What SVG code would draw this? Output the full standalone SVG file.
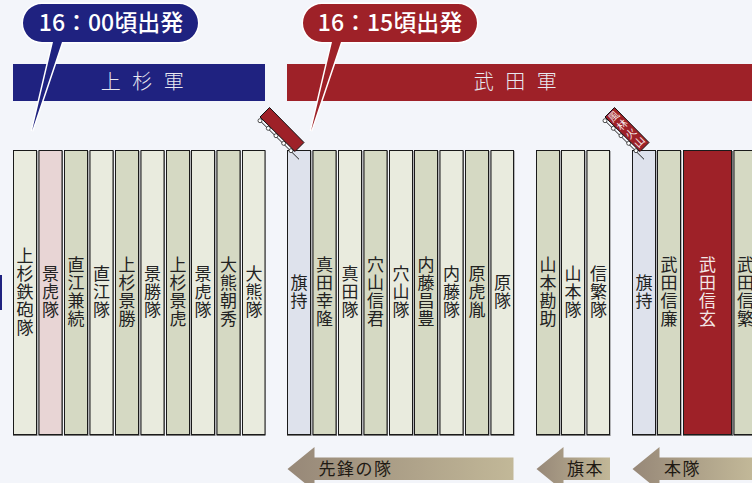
<svg xmlns="http://www.w3.org/2000/svg" width="752" height="483" viewBox="0 0 752 483">
<style>
text{font-family:"Noto Sans CJK JP","Noto Sans",sans-serif}
.s{fill:#777;stroke:none}
.c{stroke:#1a1a1a;stroke-width:1}
.L{fill:#e9ebde}.D{fill:#d5d9c3}.P{fill:#e8d5d5}.B{fill:#dee2ec}.R{fill:#9e2128}
.v{writing-mode:vertical-rl;text-anchor:middle;font-size:17px;letter-spacing:1px;fill:#222}
.vw{fill:#f3e6e6}
.ban{font-size:20px;fill:#e8e8f0;text-anchor:middle;font-weight:300}
.pill{stroke:#fff;stroke-width:3;paint-order:stroke}
.pt{font-size:23px;fill:#fff;text-anchor:middle;font-weight:500}
.arr{font-size:17px;fill:#1f1a14;letter-spacing:1.500px}
.pole{stroke:#222;stroke-width:1;fill:none}
.ring{fill:#fff;stroke:#222;stroke-width:.8}
.flag{fill:#9e2128;stroke:#111;stroke-width:1}
</style>
<defs>
<linearGradient id="g1" x1="0" x2="1" y1="0" y2="0"><stop offset="0" stop-color="#978878"/><stop offset="1" stop-color="#c2b898"/></linearGradient>
<g id="fl">
<line class="pole" x1="260" y1="120.700" x2="299" y2="159.300"/>
<circle class="ring" cx="260" cy="120.700" r="2"/><circle class="ring" cx="268.300" cy="128.300" r="2"/><circle class="ring" cx="276" cy="135.700" r="2"/><circle class="ring" cx="283.700" cy="143.300" r="2"/><circle class="ring" cx="291" cy="150.700" r="2"/>
</g>
</defs>
<rect width="752" height="483" fill="#f3f5fa"/>
<rect x="0" y="275" width="2" height="35" fill="#1f2280"/>

<g id="banner-uesugi"><rect x="13" y="64" width="252" height="37" fill="#1f2280"/><text class="ban" x="148" y="89" letter-spacing="11.500">上杉軍</text></g>
<g id="banner-takeda"><rect x="287" y="64" width="465" height="37" fill="#9e2128"/><text class="ban" x="521" y="89" letter-spacing="11.500">武田軍</text></g>

<g id="callout-uesugi">
<path class="pill" fill="#1f2280" d="M42 4H179A19 19 0 0 1 179 42H62L32 131L53 42H42A19 19 0 0 1 42 4Z"/>
<text class="pt" x="111" y="31">16：00頃出発</text>
</g>
<g id="callout-takeda">
<path class="pill" fill="#9e2128" d="M322 4H458A19 19 0 0 1 458 42H341L311 131L332 42H322A19 19 0 0 1 322 4Z"/>
<text class="pt" x="390" y="31">16：15頃出発</text>
</g>

<g id="col-1"><rect class="s" x="13" y="151" width="24.500" height="285"/><rect class="c L" x="13.500" y="150.500" width="23" height="284"/><text class="v" x="25" y="292.500">上杉鉄砲隊</text></g>
<g id="col-2"><rect class="s" x="38.500" y="151" width="24.500" height="285"/><rect class="c P" x="39" y="150.500" width="23" height="284"/><text class="v" x="50.500" y="292.500">景虎隊</text></g>
<g id="col-3"><rect class="s" x="64" y="151" width="24.500" height="285"/><rect class="c D" x="64.500" y="150.500" width="23" height="284"/><text class="v" x="76" y="292.500">直江兼続</text></g>
<g id="col-4"><rect class="s" x="89.500" y="151" width="24.500" height="285"/><rect class="c L" x="90" y="150.500" width="23" height="284"/><text class="v" x="101.500" y="292.500">直江隊</text></g>
<g id="col-5"><rect class="s" x="115" y="151" width="24.500" height="285"/><rect class="c D" x="115.500" y="150.500" width="23" height="284"/><text class="v" x="127" y="292.500">上杉景勝</text></g>
<g id="col-6"><rect class="s" x="140.500" y="151" width="24.500" height="285"/><rect class="c L" x="141" y="150.500" width="23" height="284"/><text class="v" x="152.500" y="292.500">景勝隊</text></g>
<g id="col-7"><rect class="s" x="166" y="151" width="24.500" height="285"/><rect class="c D" x="166.500" y="150.500" width="23" height="284"/><text class="v" x="178" y="292.500">上杉景虎</text></g>
<g id="col-8"><rect class="s" x="191" y="151" width="24.500" height="285"/><rect class="c L" x="191.500" y="150.500" width="23" height="284"/><text class="v" x="203" y="292.500">景虎隊</text></g>
<g id="col-9"><rect class="s" x="216.500" y="151" width="24.500" height="285"/><rect class="c D" x="217" y="150.500" width="23" height="284"/><text class="v" x="228.500" y="292.500">大熊朝秀</text></g>
<g id="col-10"><rect class="s" x="242" y="151" width="23.500" height="285"/><rect class="c L" x="242.500" y="150.500" width="22.500" height="284"/><text class="v" x="254" y="292.500">大熊隊</text></g>

<g id="col-11"><rect class="s" x="287" y="151" width="24.500" height="285"/><rect class="c B" x="287.500" y="150.500" width="23" height="284"/><text class="v" x="299" y="292.500">旗持</text></g>
<g id="col-12"><rect class="s" x="312.500" y="151" width="24.500" height="285"/><rect class="c D" x="313" y="150.500" width="23" height="284"/><text class="v" x="324.500" y="292.500">真田幸隆</text></g>
<g id="col-13"><rect class="s" x="338" y="151" width="24.500" height="285"/><rect class="c L" x="338.500" y="150.500" width="23" height="284"/><text class="v" x="350" y="292.500">真田隊</text></g>
<g id="col-14"><rect class="s" x="363.500" y="151" width="24.500" height="285"/><rect class="c D" x="364" y="150.500" width="23" height="284"/><text class="v" x="375.500" y="292.500">穴山信君</text></g>
<g id="col-15"><rect class="s" x="389" y="151" width="24.500" height="285"/><rect class="c L" x="389.500" y="150.500" width="23" height="284"/><text class="v" x="401" y="292.500">穴山隊</text></g>
<g id="col-16"><rect class="s" x="414" y="151" width="24.500" height="285"/><rect class="c D" x="414.500" y="150.500" width="23" height="284"/><text class="v" x="426" y="292.500">内藤昌豊</text></g>
<g id="col-17"><rect class="s" x="439.500" y="151" width="24.500" height="285"/><rect class="c L" x="440" y="150.500" width="23" height="284"/><text class="v" x="451.500" y="292.500">内藤隊</text></g>
<g id="col-18"><rect class="s" x="465" y="151" width="24.500" height="285"/><rect class="c D" x="465.500" y="150.500" width="23" height="284"/><text class="v" x="477" y="292.500">原虎胤</text></g>
<g id="col-19"><rect class="s" x="490.500" y="151" width="24" height="285"/><rect class="c L" x="491" y="150.500" width="22.500" height="284"/><text class="v" x="502.500" y="292.500">原隊</text></g>

<g id="col-20"><rect class="s" x="536" y="151" width="24.500" height="285"/><rect class="c D" x="536.500" y="150.500" width="23" height="284"/><text class="v" x="548" y="292.500">山本勘助</text></g>
<g id="col-21"><rect class="s" x="561" y="151" width="24.500" height="285"/><rect class="c L" x="561.500" y="150.500" width="23" height="284"/><text class="v" x="573" y="292.500">山本隊</text></g>
<g id="col-22"><rect class="s" x="586.500" y="151" width="24" height="285"/><rect class="c L" x="587" y="150.500" width="22.500" height="284"/><text class="v" x="598.500" y="292.500">信繁隊</text></g>

<g id="col-23"><rect class="s" x="632" y="151" width="24.500" height="285"/><rect class="c B" x="632.500" y="150.500" width="23" height="284"/><text class="v" x="644" y="292.500">旗持</text></g>
<g id="col-24"><rect class="s" x="657" y="151" width="24.500" height="285"/><rect class="c D" x="657.500" y="150.500" width="23" height="284"/><text class="v" x="669" y="292.500">武田信廉</text></g>
<g id="col-25"><rect class="s" x="683" y="151" width="50" height="285"/><rect class="c R" x="683.500" y="150.500" width="48" height="284"/><text class="v vw" x="707.500" y="292.500">武田信玄</text></g>
<g id="col-26"><rect class="s" x="733.500" y="151" width="30" height="285"/><rect class="c D" x="734" y="150.500" width="30" height="284"/><text class="v" x="745.500" y="292.500">武田信繁</text></g>

<g id="flag-1">
<use href="#fl"/>
<polygon class="flag" points="269.500,107.500 304,142.500 295,151.500 260,117"/>
</g>
<g id="flag-2">
<use href="#fl" x="345"/>
<polygon class="flag" points="614.500,107.500 649,142.500 640,151.500 605,117"/>
<text x="627" y="129.500" font-size="10.500" fill="#f5e8e8" text-anchor="middle" letter-spacing="1.500" style="writing-mode:vertical-rl" transform="rotate(-45 627 129.500)">風林火山</text>
</g>

<g id="connectors">
<g id="arrow-senpo"><path fill="url(#g1)" d="M287.500 469L314.500 447V457.500H513.500V480H314.500V491Z"/><text class="arr" x="318.500" y="475">先鋒の隊</text></g>
<g id="arrow-hatamoto"><path fill="url(#g1)" d="M536.500 469L563.500 447V457.500H610V480H563.500V491Z"/><text class="arr" x="567" y="475">旗本</text></g>
<g id="arrow-honntai"><path fill="url(#g1)" d="M632.500 469L659.500 447V457.500H752V480H659.500V491Z"/><text class="arr" x="664" y="475">本隊</text></g>
</g>
</svg>
